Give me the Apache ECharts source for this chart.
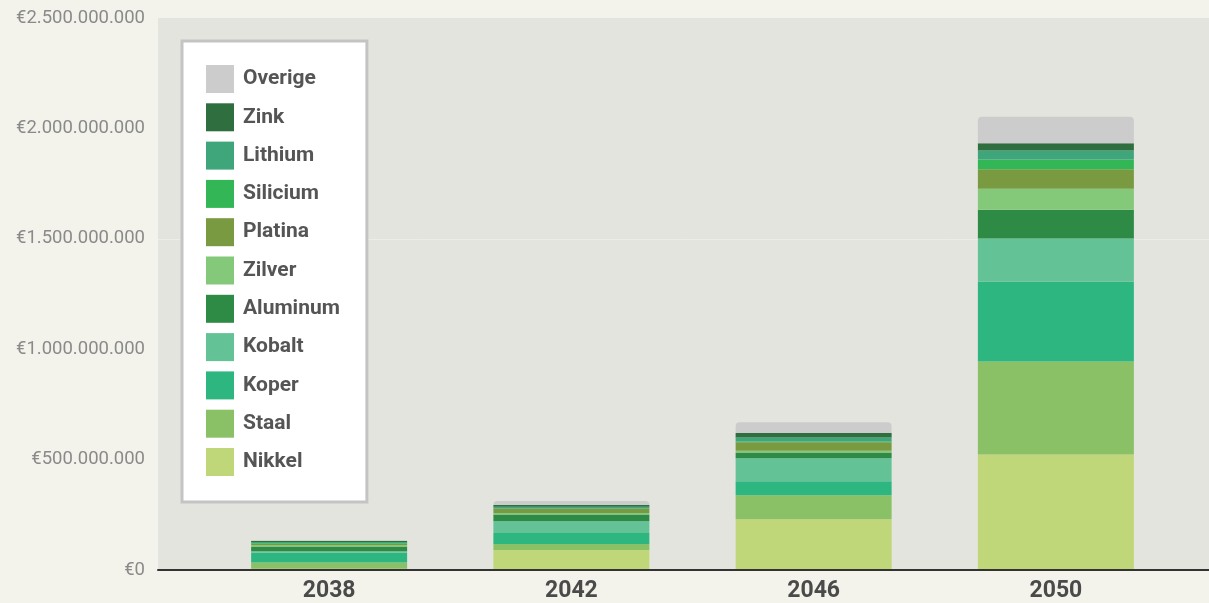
<!DOCTYPE html>
<html>
<head>
<meta charset="utf-8">
<script src="https://cdn.jsdelivr.net/npm/echarts@6/dist/echarts.min.js"></script>
<style>
  html, body { margin: 0; padding: 0; background: #f3f3eb; }
  #chart { width: 1209px; height: 603px; }
</style>
</head>
<body>
<div id="chart"></div>
<script>
// Years on the category axis
const years = ['2038', '2042', '2046', '2050'];

// Value per material per year, in euro (stacked bottom to top)
const nikkel   = [1e6,   86e6,  226e6, 520e6];
const staal    = [29e6,  27e6,  109e6, 422e6];
const koper    = [44e6,  50e6,  63e6,  362e6];
const kobalt   = [7e6,   54e6,  104e6, 196e6];
const aluminum = [21e6,  30e6,  27e6,  130e6];
const zilver   = [7e6,   7e6,   8e6,   95e6];
const platina  = [5e6,   18e6,  38e6,  89e6];
const silicium = [4e6,   3e6,   3e6,   44e6];
const lithium  = [4e6,   8e6,   19e6,  41e6];
const zink     = [5e6,   7e6,   20e6,  33e6];
const overige  = [4e6,   19e6,  49e6,  120e6];

// Value axis range
const yMin = 0;
const yMax = 2500000000;
const yStep = 500000000;

const materials = [
  { name: 'Nikkel',   data: nikkel,   color: '#bfd679' },
  { name: 'Staal',    data: staal,    color: '#8ac167' },
  { name: 'Koper',    data: koper,    color: '#2db67f' },
  { name: 'Kobalt',   data: kobalt,   color: '#63c397' },
  { name: 'Aluminum', data: aluminum, color: '#2e8b45' },
  { name: 'Zilver',   data: zilver,   color: '#84c87a' },
  { name: 'Platina',  data: platina,  color: '#7a9a42' },
  { name: 'Silicium', data: silicium, color: '#33b655' },
  { name: 'Lithium',  data: lithium,  color: '#3fa67b' },
  { name: 'Zink',     data: zink,     color: '#2f6e3f' },
  { name: 'Overige',  data: overige,  color: '#cccccc' }
];

const euro = v => '€' + String(Math.round(v)).replace(/\B(?=(\d{3})+(?!\d))/g, '.');

const chart = echarts.init(document.getElementById('chart'), null, { renderer: 'canvas' });

chart.setOption({
  backgroundColor: '#f3f3eb',
  animation: false,
  textStyle: { fontFamily: 'Roboto, "Noto Sans", sans-serif' },
  grid: [
    // full-width panel carrying the value axis and baseline
    { left: 158, right: 0, top: 18, bottom: 33, show: true, backgroundColor: '#e4e4de', borderWidth: 0 },
    // inner band where the bars sit
    { left: 208, right: 32, top: 18, bottom: 33 }
  ],
  xAxis: [
    {
      gridIndex: 0, type: 'value', min: 0, max: 1, z: 5,
      axisLine: { show: true, lineStyle: { color: '#333333', width: 2 } },
      axisTick: { show: false }, axisLabel: { show: false }, splitLine: { show: false }
    },
    {
      gridIndex: 1, type: 'category', data: years,
      axisLine: { show: false }, axisTick: { show: false },
      axisLabel: { color: '#4a4a4a', fontSize: 23, fontWeight: 'bold', margin: 11 }
    }
  ],
  yAxis: [
    {
      gridIndex: 0, type: 'value', min: yMin, max: yMax, interval: yStep,
      axisLine: { show: false }, axisTick: { show: false },
      axisLabel: { color: '#8a8a8a', fontSize: 18.5, margin: 13, formatter: euro },
      splitLine: { show: true, lineStyle: { color: ['transparent', 'transparent', 'transparent', '#ededE8', 'transparent', 'transparent'], width: 1 } }
    },
    { gridIndex: 1, type: 'value', min: yMin, max: yMax, show: false }
  ],
  legend: {
    orient: 'vertical',
    left: 182, top: 41,
    padding: [24, 27, 26, 24],
    backgroundColor: '#ffffff',
    borderColor: '#c4c4c4', borderWidth: 3,
    itemWidth: 28, itemHeight: 28, itemGap: 10.3,
    icon: 'rect',
    data: materials.map(m => m.name).reverse(),
    textStyle: { color: '#555555', fontSize: 21, fontWeight: 'bold', padding: [0, 0, 0, 4] }
  },
  series: materials.map((m, i) => ({
    name: m.name,
    type: 'bar',
    stack: 'totaal',
    xAxisIndex: 1, yAxisIndex: 1,
    barWidth: 156,
    data: m.data,
    itemStyle: {
      color: m.color,
      borderRadius: i === materials.length - 1 ? [4, 4, 0, 0] : 0
    }
  }))
});
</script>
</body>
</html>
